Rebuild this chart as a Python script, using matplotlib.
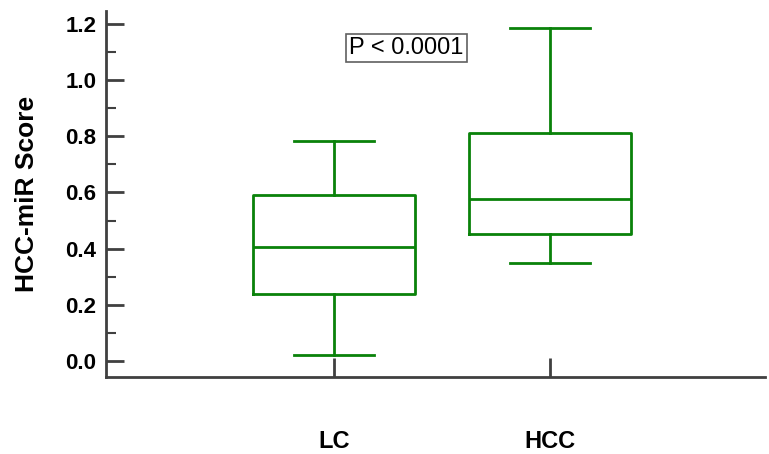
import matplotlib
matplotlib.use('Agg')
import matplotlib.pyplot as plt
from matplotlib.ticker import MultipleLocator

plt.rcParams['font.family'] = ['Liberation Sans', 'DejaVu Sans']

# box plot summary values
groups = ['LC', 'HCC']
whislo = [0.020, 0.350]
q1 = [0.238, 0.452]
med = [0.407, 0.576]
q3 = [0.591, 0.810]
whishi = [0.784, 1.185]
p_text = 'P < 0.0001'

green = '#0a820a'
axcol = '#404040'

stats = []
for i in range(len(groups)):
    stats.append({'label': groups[i], 'whislo': whislo[i], 'q1': q1[i],
                  'med': med[i], 'q3': q3[i], 'whishi': whishi[i], 'fliers': []})

fig = plt.figure(figsize=(7.69, 4.54), dpi=100)
ax = fig.add_axes([0.1378, 0.1696, 0.995 - 0.1378, 0.9758 - 0.1696])

lw = 2.0
ax.bxp(stats, positions=[1, 2], widths=0.753, showfliers=False,
       boxprops=dict(color=green, linewidth=lw),
       medianprops=dict(color=green, linewidth=lw),
       whiskerprops=dict(color=green, linewidth=lw),
       capprops=dict(color=green, linewidth=lw),
       capwidths=0.372)

ax.set_xlim(-0.06, 3.0)
ax.set_ylim(-0.057, 1.246)

ax.spines['top'].set_visible(False)
ax.spines['right'].set_visible(False)
for s in ['left', 'bottom']:
    ax.spines[s].set_color(axcol)
    ax.spines[s].set_linewidth(2)

ax.yaxis.set_minor_locator(MultipleLocator(0.1))
yt = [0.0, 0.2, 0.4, 0.6, 0.8, 1.0, 1.2]
ax.set_yticks(yt)
ax.set_yticklabels(['%.1f' % v for v in yt], fontsize=16, fontweight='bold')
ax.tick_params(axis='y', which='major', direction='in', length=13, width=2,
               color=axcol, pad=7)
ax.tick_params(axis='y', which='minor', direction='in', length=7, width=1.5,
               color=axcol)
ax.set_xticks([1, 2])
ax.set_xticklabels(groups, fontsize=17, fontweight='bold')
ax.tick_params(axis='x', direction='in', length=14, width=2, color=axcol, pad=38)

ax.set_ylabel('HCC-miR Score', fontsize=19, fontweight='bold', labelpad=19)

ax.text(1.335, 1.115, p_text, fontsize=17, ha='center', va='center',
        bbox=dict(boxstyle='square,pad=0.12', facecolor='white',
                  edgecolor='#606060', linewidth=1.2))

fig.savefig('out.png', dpi=100)
